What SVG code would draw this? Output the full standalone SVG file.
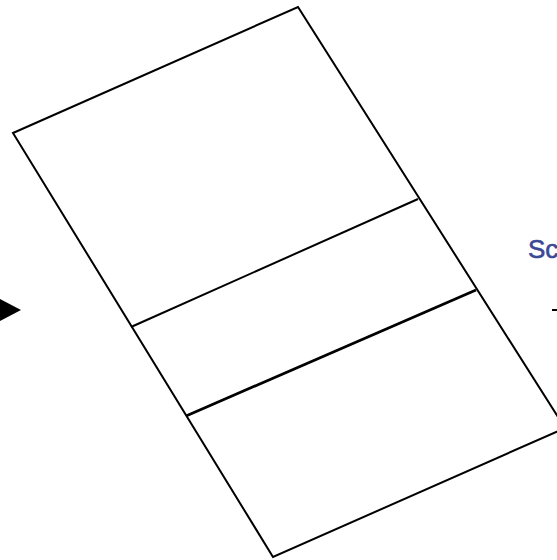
<svg xmlns="http://www.w3.org/2000/svg" width="557" height="560" viewBox="0 0 557 560">
<style>
.edge{fill:none;stroke:#000;stroke-width:2;stroke-linejoin:miter}
.div{stroke:#000;stroke-width:2}
.thick{stroke:#000;stroke-width:2.8}
</style>
<rect width="557" height="560" fill="#fff"/>
<g id="panel">
<polygon class="edge" points="13,133 298,7 565,428 273,557"/>
<line class="div" x1="131" y1="327" x2="418" y2="199"/>
<line class="thick" x1="186" y1="416" x2="476" y2="290"/>
</g>
<g id="connectors">
<polygon points="0,299 21,310 0,321" fill="#000"/>
<line x1="552" y1="310" x2="557" y2="310" stroke="#000" stroke-width="2"/>
</g>
<g id="label">
<text x="528" y="258" font-family="Liberation Sans, Arial, sans-serif" font-size="26" fill="#3a4896" stroke="#3a4896" stroke-width="0.6">Sc</text>
</g>
</svg>
